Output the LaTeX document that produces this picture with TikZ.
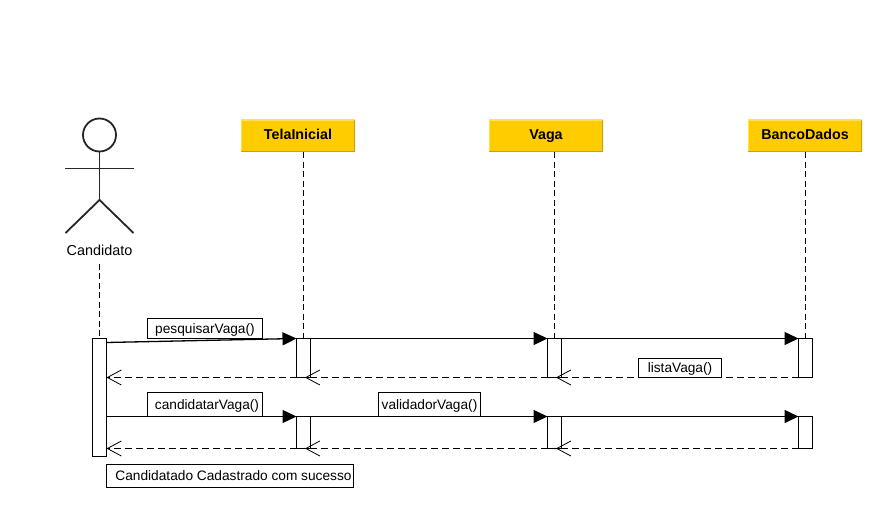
\documentclass[tikz,border=0pt]{standalone}
\usepackage{fontspec}
\setmainfont{Liberation Sans}
\usetikzlibrary{arrows.meta}
\definecolor{hdr}{HTML}{FFCC00}
\definecolor{hdrlight}{HTML}{FFE24D}
\definecolor{hdrdark}{HTML}{C4A020}
\tikzset{
  x=1pt,y=-1pt,
  header/.style={fill=hdr,minimum width=114pt,minimum height=32pt,inner sep=0pt,
    text height=7.5pt,text depth=0pt,
    font=\fontsize{14.3}{16}\selectfont\bfseries,
    path picture={
      \draw[hdrlight,line width=2.6pt] (path picture bounding box.south west)--(path picture bounding box.north west)--(path picture bounding box.north east);
      \draw[hdrdark,line width=2.6pt] (path picture bounding box.north east)--(path picture bounding box.south east)--(path picture bounding box.south west);
    }},
  bar/.style={draw=black,fill=white,line width=1pt,minimum width=14pt,inner sep=0pt,outer sep=0pt},
  msg/.style={draw=black,fill=white,line width=1pt,inner sep=0pt,outer sep=0pt,
    text height=10pt,text depth=0pt,font=\fontsize{13.7}{16}\selectfont},
  life/.style={draw=black,line width=1pt,dash pattern=on 6pt off 3.5pt},
  call/.style={draw=black,line width=1.3pt,-{Triangle[length=14pt,width=13pt]}},
  back/.style={draw=black,line width=1pt,dash pattern=on 7pt off 4pt,
    -{Straight Barb[length=14pt,width=15pt,line width=0.8pt]}},
  limb/.style={draw=black!85,line width=1.8pt}
}
\begin{document}
\begin{tikzpicture}
\useasboundingbox (0,0) rectangle (879,513);
% headers
\node[header] (tela) at (298,136) {TelaInicial};
\node[header] (vaga) at (546,136) {Vaga};
\node[header] (banco) at (805,136) {BancoDados};
% actor
\node[draw=black!85,line width=1.8pt,circle,minimum size=33pt,inner sep=0pt,outer sep=0pt] (head) at (99.5,135) {};
\coordinate (hip) at (99.5,200);
\coordinate (shl) at (65,168.5);
\coordinate (shr) at (133.5,168.5);
\coordinate (ftl) at (65.5,233);
\coordinate (ftr) at (133.5,233);
\draw[limb] (head.south) -- (hip);
\draw[limb] (shl) -- (shr);
\draw[limb] (ftl) -- (hip) -- (ftr);
\node[anchor=base,inner sep=0pt,font=\fontsize{14.4}{16}\selectfont] (cand) at (99.5,255.5) {Candidato};
% activation bars
\node[bar,minimum height=118pt] (c1) at (99.5,397.5) {};
\node[bar,minimum height=39pt] (t1) at (303.5,358) {};
\node[bar,minimum height=39pt] (v1) at (554.5,358) {};
\node[bar,minimum height=39pt] (b1) at (805.5,358) {};
\node[bar,minimum height=32pt] (t2) at (303.5,432.5) {};
\node[bar,minimum height=32pt] (v2) at (554.5,432.5) {};
\node[bar,minimum height=32pt] (b2) at (805.5,432.5) {};
% lifelines
\coordinate (cs) at (99.5,264);
\draw[life] (cs) -- (c1.north);
\draw[life] (tela.south -| t1.north) -- (t1.north);
\draw[life] (vaga.south -| v1.north) -- (v1.north);
\draw[life] (banco.south -| b1.north) -- (b1.north);
% message labels
\node[msg,minimum width=115pt,minimum height=20pt] (l1) at (205,328.5) {pesquisarVaga()};
\node[msg,minimum width=115pt,minimum height=24pt] (l2) at (205,404.5) {\hspace*{4pt}candidatarVaga()};
\node[msg,minimum width=102pt,minimum height=24pt] (l3) at (429.5,404.5) {validadorVaga()};
\node[msg,minimum width=83pt,minimum height=19pt] (l4) at (680,368) {listaVaga()};
\node[msg,minimum width=247pt,minimum height=23pt,text height=9.5pt] (l5) at (230,476) {\hspace*{7pt}Candidatado Cadastrado com sucesso};
% calls
\draw[call] ([yshift=-4pt]c1.north east) -- (t1.north west);
\draw[call] (t1.north east) -- (v1.north west);
\draw[call] (v1.north east) -- (b1.north west);
\draw[call] (c1.east |- t2.north) -- (t2.north west);
\draw[call] (t2.north east) -- (v2.north west);
\draw[call] (v2.north east) -- (b2.north west);
% returns
\draw[back] (b1.south west) -- ([xshift=1.5pt]v1.south);
\draw[back] (v1.south west) -- ([xshift=1.5pt]t1.south);
\draw[back] (t1.south west) -- (c1.east |- t1.south);
\draw[back] (b2.south west) -- ([xshift=1.5pt]v2.south);
\draw[back] (v2.south west) -- ([xshift=1.5pt]t2.south);
\draw[back] (t2.south west) -- (c1.east |- t2.south);
\end{tikzpicture}
\end{document}
